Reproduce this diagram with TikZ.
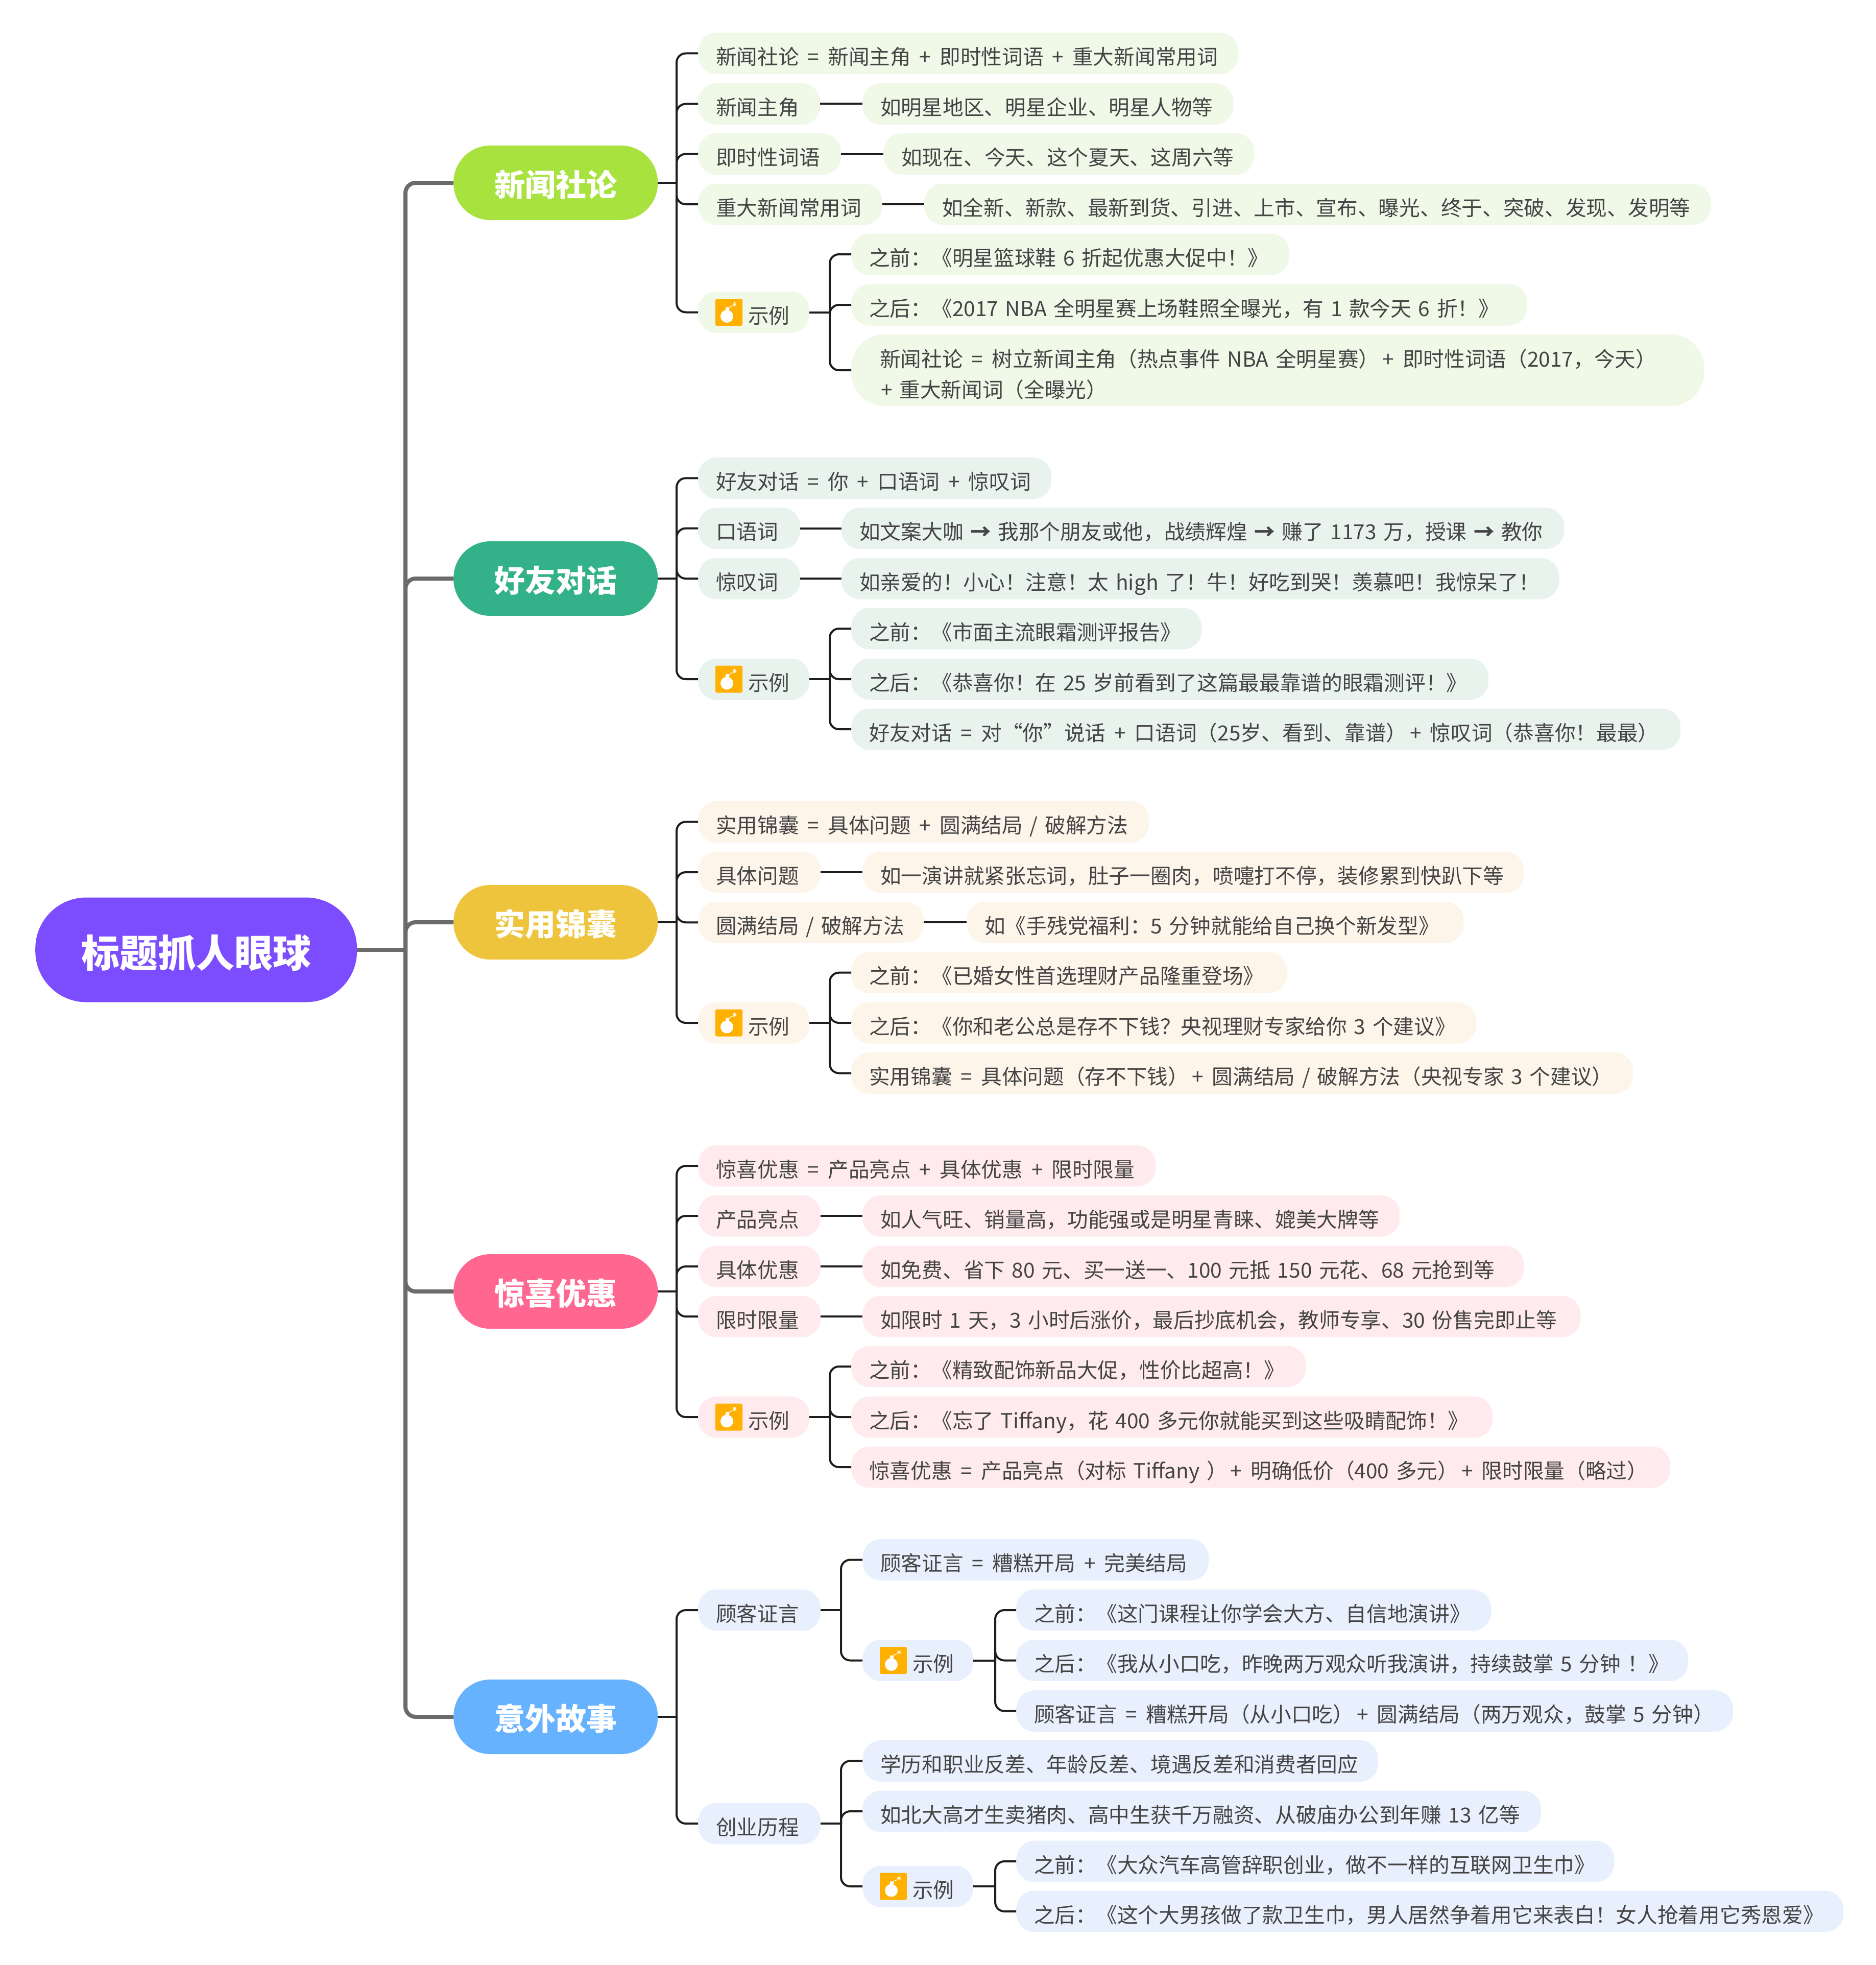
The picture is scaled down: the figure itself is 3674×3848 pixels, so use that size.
\documentclass[tikz,border=0pt]{standalone}
\usepackage{fontspec}
\setmainfont[WordSpace=1.35]{Noto Sans CJK SC}
\definecolor{txt}{HTML}{444444}
\definecolor{conn}{HTML}{1E1E1E}
\definecolor{trunkc}{HTML}{6B6B6B}
\definecolor{pa}{HTML}{F0F8E8}
\definecolor{pb}{HTML}{E8F3EE}
\definecolor{pc}{HTML}{FDF5EA}
\definecolor{pd}{HTML}{FFEBEE}
\definecolor{pe}{HTML}{E8F0FE}
\definecolor{bombc}{HTML}{FFB000}
\tikzset{
  pill/.style={anchor=west,rounded corners=36pt,minimum height=81pt,inner ysep=0pt,inner xsep=35pt,
    text=txt,align=left,text height=49pt,text depth=5pt,font=\fontsize{40.7pt}{60pt}\selectfont},
  mainn/.style={anchor=west,rounded corners=72pt,minimum width=400pt,minimum height=146pt,text=white,
    text height=56pt,text depth=4pt,inner sep=0pt,font=\fontsize{60pt}{60pt}\selectfont\bfseries},
  rootn/.style={anchor=west,rounded corners=100pt,minimum width=630pt,minimum height=205pt,text=white,
    text height=74pt,text depth=6pt,inner sep=0pt,font=\fontsize{75pt}{80pt}\selectfont\bfseries},
  cline/.style={draw=conn,line width=4pt,rounded corners=18pt},
  tline/.style={draw=trunkc,line width=8pt,rounded corners=20pt},
}
\newcommand{\pill}[6]{\pgfmathsetmacro\tw{#3-#2-70}%
  \node[pill,fill=#5,text width=\tw pt] (#1) at (#2,#4) {\mbox{#6}};}
\newcommand{\expill}[5]{\pgfmathsetmacro\tw{#3-#2-70}%
  \node[pill,fill=#5,text width=\tw pt] (#1) at (#2,#4) {\mbox{\hspace*{63pt}示例}};
  \begin{scope}[shift={(#2+60.5,#4)}]
    \fill[fill=bombc,rounded corners=3pt] (-26.5,-26.5) rectangle (26.5,26.5);
    \fill[white] (-4,8) circle (12.5);
    \fill[white,rotate around={-25:(-3,-6.5)}] (-6.5,-9.5) rectangle (0.5,-4);
    \draw[white,line width=1.3pt] (-1,-8.5) .. controls (2,-12) and (3,-10) .. (7,-13);
    \draw[white,line width=1pt] (7,-16) -- (15,-16) (11,-20) -- (11,-12) (8,-19) -- (14,-13) (8,-13) -- (14,-19);
  \end{scope}}
\newcommand{\stem}[2]{\coordinate (#1-t) at (#1.east -| {(#2,0)}); \draw[cline] (#1.east) -- (#1-t);}
\newcommand{\kid}[2]{\draw[cline] (#1-t) |- (#2.west);}
\newcommand{\link}[2]{\draw[cline] (#1.east) -- (#2.west);}
\newcommand{\arr}{{\bfseries →}}
\newcommand{\EQ}{\kern3.3pt\ =\ \kern3.3pt}
\newcommand{\PL}{\kern3.3pt\ +\ \kern3.3pt}
\newcommand{\PR}{\kern6pt+\ \kern3.3pt}
\begin{document}
\begin{tikzpicture}[x=1pt,y=-1pt]
\useasboundingbox (0,0) rectangle (3674,3848);
\node[rootn,fill={rgb,255:red,124;green,77;blue,255}] (root) at (69,1860) {标题抓人眼球};
\node[mainn,fill={rgb,255:red,168;green,226;blue,63}] (m1) at (888,358) {新闻社论};
\node[mainn,fill={rgb,255:red,51;green,177;blue,136}] (m2) at (888,1133) {好友对话};
\node[mainn,fill={rgb,255:red,239;green,196;blue,61}] (m3) at (888,1806) {实用锦囊};
\node[mainn,fill={rgb,255:red,255;green,102;blue,144}] (m4) at (888,2529) {惊喜优惠};
\node[mainn,fill={rgb,255:red,102;green,178;blue,255}] (m5) at (888,3362) {意外故事};
\coordinate (root-t) at (794,1860);
\draw[tline] (root.east) -- (root-t);
\foreach \m in {m1,m2,m3,m4,m5} {\draw[tline] (root-t) |- (\m.west);}
% section 1
\pill{a1}{1367}{2425}{104.5}{pa}{新闻社论\EQ 新闻主角\PL 即时性词语\PL 重大新闻常用词}
\pill{a2}{1367}{1606}{203.5}{pa}{新闻主角}
\pill{a2k}{1689}{2415}{203.5}{pa}{如明星地区、明星企业、明星人物等}
\pill{a3}{1367}{1647}{301.5}{pa}{即时性词语}
\pill{a3k}{1730}{2456}{301.5}{pa}{如现在、今天、这个夏天、这周六等}
\pill{a4}{1367}{1728}{400}{pa}{重大新闻常用词}
\pill{a4k}{1810}{3350}{400}{pa}{如全新、新款、最新到货、引进、上市、宣布、曝光、终于、突破、发现、发明等}
\expill{a5}{1367}{1585}{611.5}{pa}
\pill{a5a}{1667}{2525}{498}{pa}{之前：《明星篮球鞋 6 折起优惠大促中！》}
\pill{a5b}{1667}{2991}{597}{pa}{之后：《2017 NBA 全明星赛上场鞋照全曝光，有 1 款今天 6 折！》}
\node[pill,fill=pa,rounded corners=65pt,minimum height=140pt,text width=1600pt,text height=49pt,text depth=62pt] (a5c) at (1667,725) {\mbox{\hspace*{21pt}新闻社论\EQ 树立新闻主角（热点事件 NBA 全明星赛）\PR 即时性词语（2017，今天）}\\\mbox{\hspace*{23pt}+ 重大新闻词（全曝光）}};
\stem{m1}{1325}\foreach \k in {a1,a2,a3,a4,a5} {\kid{m1}{\k}}
\link{a2}{a2k}\link{a3}{a3k}\link{a4}{a4k}
\stem{a5}{1625}\foreach \k in {a5a,a5b,a5c} {\kid{a5}{\k}}
% section 2
\pill{b1}{1367}{2059}{936.3}{pb}{好友对话\EQ 你\PL 口语词\PL 惊叹词}
\pill{b2}{1367}{1567}{1034.6}{pb}{口语词}
\pill{b2k}{1648}{3063}{1034.6}{pb}{如文案大咖 \arr{} 我那个朋友或他，战绩辉煌 \arr{} 赚了 1173 万，授课 \arr{} 教你}
\pill{b3}{1367}{1567}{1133}{pb}{惊叹词}
\pill{b3k}{1648}{3053}{1133}{pb}{如亲爱的！小心！注意！太 high 了！牛！好吃到哭！羡慕吧！我惊呆了！}
\expill{b4}{1367}{1585}{1330}{pb}
\pill{b4a}{1667}{2353}{1231}{pb}{之前：《市面主流眼霜测评报告》}
\pill{b4b}{1667}{2915}{1330}{pb}{之后：《恭喜你！在 25 岁前看到了这篇最最靠谱的眼霜测评！》}
\pill{b4c}{1667}{3291}{1428}{pb}{好友对话\EQ 对“你”说话\PL 口语词（25岁、看到、靠谱）\PR 惊叹词（恭喜你！最最）}
\stem{m2}{1325}\foreach \k in {b1,b2,b3,b4} {\kid{m2}{\k}}
\link{b2}{b2k}\link{b3}{b3k}
\stem{b4}{1625}\foreach \k in {b4a,b4b,b4c} {\kid{b4}{\k}}
% section 3
\pill{c1}{1367}{2250}{1609.3}{pc}{实用锦囊\EQ 具体问题\PL 圆满结局 / 破解方法}
\pill{c2}{1367}{1607}{1708}{pc}{具体问题}
\pill{c2k}{1689}{2984}{1708}{pc}{如一演讲就紧张忘词，肚子一圈肉，喷嚏打不停，装修累到快趴下等}
\pill{c3}{1367}{1809}{1806.3}{pc}{圆满结局 / 破解方法}
\pill{c3k}{1893}{2866}{1806.3}{pc}{如《手残党福利：5 分钟就能给自己换个新发型》}
\expill{c4}{1367}{1585}{2003}{pc}
\pill{c4a}{1667}{2520}{1904.7}{pc}{之前：《已婚女性首选理财产品隆重登场》}
\pill{c4b}{1667}{2891}{2003}{pc}{之后：《你和老公总是存不下钱？央视理财专家给你 3 个建议》}
\pill{c4c}{1667}{3198}{2101.5}{pc}{实用锦囊\EQ 具体问题（存不下钱）\PR 圆满结局 / 破解方法（央视专家 3 个建议）}
\stem{m3}{1325}\foreach \k in {c1,c2,c3,c4} {\kid{m3}{\k}}
\link{c2}{c2k}\link{c3}{c3k}
\stem{c4}{1625}\foreach \k in {c4a,c4b,c4c} {\kid{c4}{\k}}
% section 4
\pill{d1}{1367}{2263}{2283.2}{pd}{惊喜优惠\EQ 产品亮点\PL 具体优惠\PL 限时限量}
\pill{d2}{1367}{1607}{2381}{pd}{产品亮点}
\pill{d2k}{1689}{2741}{2381}{pd}{如人气旺、销量高，功能强或是明星青睐、媲美大牌等}
\pill{d3}{1367}{1607}{2480}{pd}{具体优惠}
\pill{d3k}{1689}{2984}{2480}{pd}{如免费、省下 80 元、买一送一、100 元抵 150 元花、68 元抢到等}
\pill{d4}{1367}{1607}{2578}{pd}{限时限量}
\pill{d4k}{1689}{3095}{2578}{pd}{如限时 1 天，3 小时后涨价，最后抄底机会，教师专享、30 份售完即止等}
\expill{d5}{1367}{1585}{2775}{pd}
\pill{d5a}{1667}{2557}{2676}{pd}{之前：《精致配饰新品大促，性价比超高！》}
\pill{d5b}{1667}{2923}{2775}{pd}{之后：《忘了 Tiffany，花 400 多元你就能买到这些吸睛配饰！》}
\pill{d5c}{1667}{3271}{2873}{pd}{惊喜优惠\EQ 产品亮点（对标 Tiffany ）\PR 明确低价（400 多元）\PR 限时限量（略过）}
\stem{m4}{1325}\foreach \k in {d1,d2,d3,d4,d5} {\kid{m4}{\k}}
\link{d2}{d2k}\link{d3}{d3k}\link{d4}{d4k}
\stem{d5}{1625}\foreach \k in {d5a,d5b,d5c} {\kid{d5}{\k}}
% section 5
\pill{e1}{1367}{1607}{3153}{pe}{顾客证言}
\pill{e1a}{1689}{2367}{3054.5}{pe}{顾客证言\EQ 糟糕开局\PL 完美结局}
\expill{e1b}{1689}{1906}{3251.5}{pe}
\pill{e1b1}{1990}{2920}{3153}{pe}{之前：《这门课程让你学会大方、自信地演讲》}
\pill{e1b2}{1990}{3306}{3251.5}{pe}{之后：《我从小口吃，昨晚两万观众听我演讲，持续鼓掌 5 分钟 ！》}
\pill{e1b3}{1990}{3394}{3350.6}{pe}{顾客证言\EQ 糟糕开局（从小口吃）\PR 圆满结局（两万观众，鼓掌 5 分钟）}
\pill{e2}{1367}{1607}{3571}{pe}{创业历程}
\pill{e2a}{1689}{2699}{3448.4}{pe}{学历和职业反差、年龄反差、境遇反差和消费者回应}
\pill{e2b}{1689}{3018}{3547}{pe}{如北大高才生卖猪肉、高中生获千万融资、从破庙办公到年赚 13 亿等}
\expill{e2c}{1689}{1906}{3694}{pe}
\pill{e2c1}{1990}{3161}{3645}{pe}{之前：《大众汽车高管辞职创业，做不一样的互联网卫生巾》}
\pill{e2c2}{1990}{3610}{3743}{pe}{之后：《这个大男孩做了款卫生巾，男人居然争着用它来表白！女人抢着用它秀恩爱》}
\stem{m5}{1325}\foreach \k in {e1,e2} {\kid{m5}{\k}}
\stem{e1}{1647}\foreach \k in {e1a,e1b} {\kid{e1}{\k}}
\stem{e1b}{1949}\foreach \k in {e1b1,e1b2,e1b3} {\kid{e1b}{\k}}
\stem{e2}{1647}\foreach \k in {e2a,e2b,e2c} {\kid{e2}{\k}}
\stem{e2c}{1949}\foreach \k in {e2c1,e2c2} {\kid{e2c}{\k}}
\end{tikzpicture}
\end{document}
